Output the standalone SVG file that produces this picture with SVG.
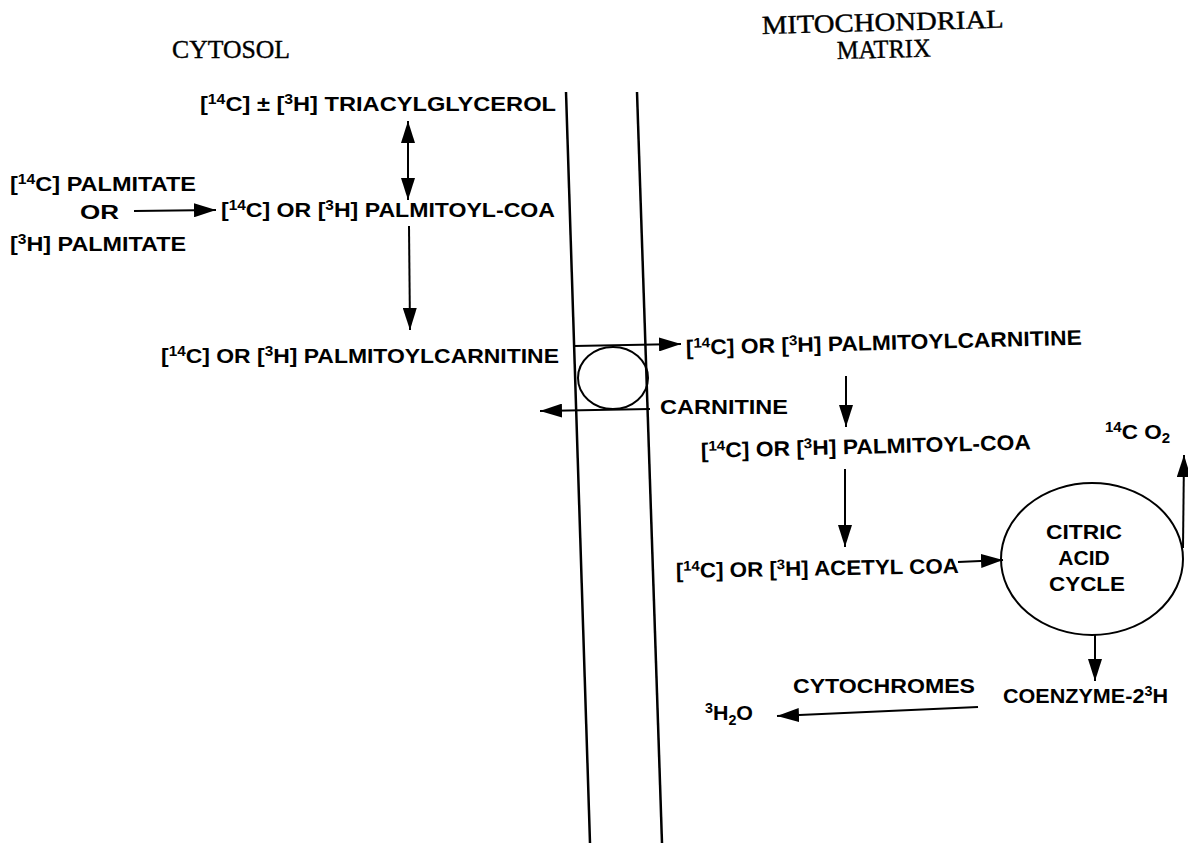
<svg xmlns="http://www.w3.org/2000/svg" width="1188" height="845" viewBox="0 0 1188 845">
<style>
.t{font-family:"Liberation Sans",Arial,sans-serif;font-weight:bold;font-size:21px;fill:#000}
.s{font-family:"Liberation Serif","Times New Roman",serif;font-size:26px;fill:#000;stroke:#000;stroke-width:0.4}
.ln{stroke:#000;stroke-width:2;fill:none}
.mb{stroke:#000;stroke-width:2.5;fill:none}
.sup{font-size:14px}
</style>
<defs>
<marker id="ah" viewBox="0 0 22 14" refX="22" refY="7" markerWidth="22" markerHeight="14" markerUnits="userSpaceOnUse" orient="auto-start-reverse">
<path d="M0,0 L22,7 L0,14 Z" fill="#000"/>
</marker>
</defs>

<g id="membrane">
<line class="mb" x1="566" y1="92" x2="590" y2="843"/>
<line class="mb" x1="637" y1="92" x2="662" y2="843"/>
</g>

<g id="labels">
<text class="s" x="172" y="58" textLength="118" lengthAdjust="spacingAndGlyphs">CYTOSOL</text>
<text class="s" x="762" y="34" textLength="242" lengthAdjust="spacingAndGlyphs" transform="rotate(-1.5 762 34)">MITOCHONDRIAL</text>
<text class="s" x="837" y="59" textLength="94" lengthAdjust="spacingAndGlyphs" transform="rotate(-1.5 837 59)">MATRIX</text>
</g>

<g id="triacylglycerol">
<text class="t" x="200" y="111" textLength="356" lengthAdjust="spacingAndGlyphs">[<tspan class="sup" dy="-7">14</tspan><tspan dy="7">C] ± [</tspan><tspan class="sup" dy="-7">3</tspan><tspan dy="7">H]  TRIACYLGLYCEROL</tspan></text>
</g>

<g id="palmitate">
<text class="t" x="10" y="191" textLength="186" lengthAdjust="spacingAndGlyphs">[<tspan class="sup" dy="-7">14</tspan><tspan dy="7">C] PALMITATE</tspan></text>
<text class="t" x="80" y="219" textLength="39" lengthAdjust="spacingAndGlyphs">OR</text>
<text class="t" x="10" y="251" textLength="176" lengthAdjust="spacingAndGlyphs">[<tspan class="sup" dy="-7">3</tspan><tspan dy="7">H] PALMITATE</tspan></text>
</g>

<g id="palmitoylcoa-cyt">
<text class="t" x="221" y="217" textLength="334" lengthAdjust="spacingAndGlyphs">[<tspan class="sup" dy="-7">14</tspan><tspan dy="7">C] OR [</tspan><tspan class="sup" dy="-7">3</tspan><tspan dy="7">H] PALMITOYL-COA</tspan></text>
</g>

<g id="palmitoylcarnitine-cyt">
<text class="t" x="161" y="363" textLength="398" lengthAdjust="spacingAndGlyphs">[<tspan class="sup" dy="-7">14</tspan><tspan dy="7">C] OR [</tspan><tspan class="sup" dy="-7">3</tspan><tspan dy="7">H] PALMITOYLCARNITINE</tspan></text>
</g>

<g id="carnitine-transporter">
<ellipse class="ln" cx="613" cy="378" rx="35" ry="31"/>
</g>

<g id="palmitoylcarnitine-mito">
<text class="t" x="686" y="355" textLength="396" lengthAdjust="spacingAndGlyphs" transform="rotate(-1.5 686 355)">[<tspan class="sup" dy="-7">14</tspan><tspan dy="7">C] OR [</tspan><tspan class="sup" dy="-7">3</tspan><tspan dy="7">H] PALMITOYLCARNITINE</tspan></text>
</g>

<g id="carnitine">
<text class="t" x="660" y="414" textLength="128" lengthAdjust="spacingAndGlyphs">CARNITINE</text>
</g>

<g id="palmitoylcoa-mito">
<text class="t" x="701" y="458" textLength="330" lengthAdjust="spacingAndGlyphs" transform="rotate(-1.5 701 458)">[<tspan class="sup" dy="-7">14</tspan><tspan dy="7">C] OR [</tspan><tspan class="sup" dy="-7">3</tspan><tspan dy="7">H] PALMITOYL-COA</tspan></text>
</g>

<g id="acetylcoa">
<text class="t" x="676" y="578" textLength="283" lengthAdjust="spacingAndGlyphs" transform="rotate(-1 676 578)">[<tspan class="sup" dy="-7">14</tspan><tspan dy="7">C] OR [</tspan><tspan class="sup" dy="-7">3</tspan><tspan dy="7">H] ACETYL COA</tspan></text>
</g>

<g id="citric-acid-cycle">
<ellipse class="ln" cx="1092" cy="559" rx="91" ry="76"/>
<text class="t" x="1084" y="539" text-anchor="middle" textLength="76" lengthAdjust="spacingAndGlyphs">CITRIC</text>
<text class="t" x="1084" y="565" text-anchor="middle">ACID</text>
<text class="t" x="1087" y="591" text-anchor="middle" textLength="76" lengthAdjust="spacingAndGlyphs">CYCLE</text>
</g>

<g id="co2">
<text class="t" x="1105" y="439" textLength="65" lengthAdjust="spacingAndGlyphs"><tspan class="sup" dy="-7">14</tspan><tspan dy="7">C O</tspan><tspan class="sup" dy="4">2</tspan></text>
</g>

<g id="coenzyme">
<text class="t" x="1003" y="703" textLength="165" lengthAdjust="spacingAndGlyphs">COENZYME-2<tspan class="sup" dy="-7">3</tspan><tspan dy="7">H</tspan></text>
</g>

<g id="cytochromes">
<text class="t" x="793" y="693" textLength="182" lengthAdjust="spacingAndGlyphs">CYTOCHROMES</text>
</g>

<g id="water">
<text class="t" x="705" y="720" textLength="48" lengthAdjust="spacingAndGlyphs"><tspan class="sup" dy="-7">3</tspan><tspan dy="7">H</tspan><tspan class="sup" dy="5">2</tspan><tspan dy="-5">O</tspan></text>
</g>

<g id="connectors">
<line class="ln" x1="408" y1="121" x2="408" y2="200" marker-start="url(#ah)" marker-end="url(#ah)"/>
<line class="ln" x1="134" y1="211" x2="216" y2="210" marker-end="url(#ah)"/>
<line class="ln" x1="409" y1="226" x2="410" y2="330" marker-end="url(#ah)"/>
<line class="ln" x1="574" y1="346" x2="681" y2="344" marker-end="url(#ah)"/>
<line class="ln" x1="650" y1="409" x2="540" y2="411" marker-end="url(#ah)"/>
<line class="ln" x1="846" y1="376" x2="846" y2="427" marker-end="url(#ah)"/>
<line class="ln" x1="845" y1="469" x2="845" y2="547" marker-end="url(#ah)"/>
<line class="ln" x1="958" y1="562" x2="1003" y2="560" marker-end="url(#ah)"/>
<line class="ln" x1="1183" y1="548" x2="1184" y2="455" marker-end="url(#ah)"/>
<line class="ln" x1="1095" y1="635" x2="1095" y2="681" marker-end="url(#ah)"/>
<line class="ln" x1="978" y1="707" x2="777" y2="716" marker-end="url(#ah)"/>
</g>
</svg>
